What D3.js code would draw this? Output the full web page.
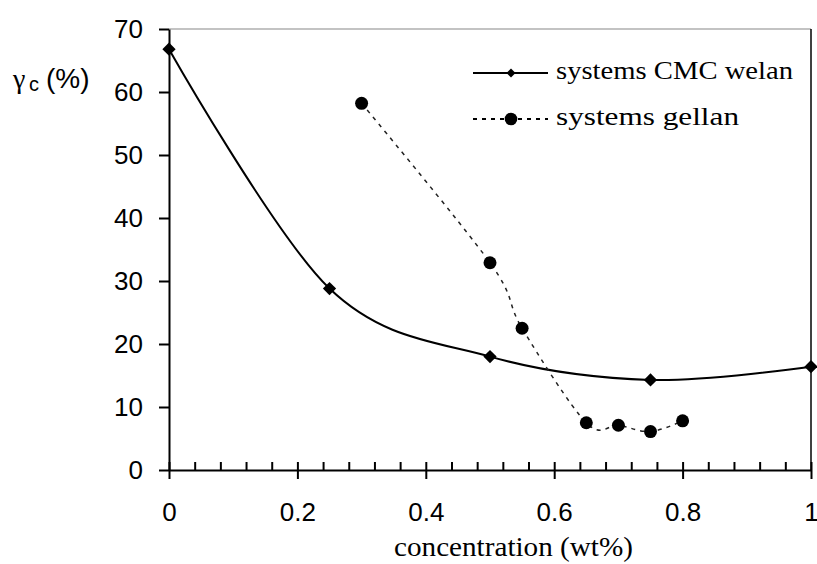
<!DOCTYPE html>
<html>
<head>
<meta charset="utf-8">
<script src="https://cdn.jsdelivr.net/npm/d3@7"></script>
<style>
  body { margin: 0; background: #fff; }
  svg { display: block; }
  .tick text { font-family: "Liberation Sans", Arial, sans-serif; font-size: 26px; fill: #000; }
  .serif { font-family: 'Liberation Serif', 'Times New Roman', serif; }
</style>
</head>
<body>
<svg id="chart" width="817" height="564"></svg>
<script>
// data
const cmcX = [0, 0.25, 0.5, 0.75, 1];
const cmcY = [66.8, 28.8, 18.0, 14.3, 16.4];
const gellanX = [0.3, 0.5, 0.55, 0.65, 0.7, 0.75, 0.8];
const gellanY = [58.2, 32.9, 22.5, 7.5, 7.1, 6.1, 7.8];
const xTicks = [0, 0.2, 0.4, 0.6, 0.8, 1];
const xTickLabels = ['0', '0.2', '0.4', '0.6', '0.8', '1'];
const xMinorTicks = d3.range(0.04, 1, 0.04).filter(v => Math.abs(v / 0.2 - Math.round(v / 0.2)) > 1e-6);
const yTicks = [0, 10, 20, 30, 40, 50, 60, 70];
const seriesNames = ['systems CMC welan', 'systems gellan'];

const SANS = '"Liberation Sans", Arial, sans-serif';

const svg = d3.select('#chart');
const plotL = 169, plotR = 811, plotT = 29, plotB = 470;

const x = d3.scaleLinear().domain([0, 1]).range([plotL, plotR]);
const y = d3.scaleLinear().domain([0, 70]).range([plotB, plotT]);

// frame: grey top, black right
svg.append('line').attr('x1', plotL).attr('x2', plotR).attr('y1', plotT).attr('y2', plotT)
  .attr('stroke', '#888').attr('stroke-width', 1.2);
svg.append('line').attr('x1', plotR).attr('x2', plotR).attr('y1', plotT).attr('y2', plotB)
  .attr('stroke', '#000').attr('stroke-width', 1.5);

// y axis
const gy = svg.append('g').attr('transform', `translate(${plotL},0)`)
  .call(d3.axisLeft(y).tickValues(yTicks).tickSize(10).tickSizeOuter(0).tickPadding(16).tickFormat(d3.format('d')));
gy.select('.domain').attr('stroke-width', 2);
gy.selectAll('.tick line').attr('stroke-width', 2);

// x axis minor ticks (inside)
const gxm = svg.append('g').attr('transform', `translate(0,${plotB})`)
  .call(d3.axisBottom(x).tickValues(xMinorTicks).tickSize(-8).tickSizeOuter(0).tickFormat(''));
gxm.select('.domain').remove();
gxm.selectAll('.tick line').attr('stroke-width', 2);

// x axis major ticks (cross the axis)
const gx = svg.append('g').attr('transform', `translate(0,${plotB})`)
  .call(d3.axisBottom(x).tickValues(xTicks).tickSize(9).tickSizeOuter(0).tickPadding(24)
    .tickFormat((d, i) => xTickLabels[i]));
gx.select('.domain').attr('stroke-width', 2);
gx.selectAll('.tick line').attr('y1', -8).attr('stroke-width', 2);

// curves (smoothed like the spreadsheet original)
const cmc = cmcX.map((v, i) => [v, cmcY[i]]);
const gellan = gellanX.map((v, i) => [v, gellanY[i]]);
const line = d3.line().x(d => x(d[0])).y(d => y(d[1])).curve(d3.curveCardinal.tension(0));

svg.append('path').attr('d', line(cmc)).attr('fill', 'none')
  .attr('stroke', '#000').attr('stroke-width', 2);
svg.append('path').attr('d', line(gellan)).attr('fill', 'none')
  .attr('stroke', '#222').attr('stroke-width', 1.5).attr('stroke-dasharray', '4,5');

const diamond = d3.symbol().type(d3.symbolSquare).size(88);
svg.append('g').selectAll('path').data(cmc).join('path')
  .attr('d', diamond)
  .attr('transform', d => `translate(${x(d[0])},${y(d[1])}) rotate(45)`)
  .attr('fill', '#000');

svg.append('g').selectAll('circle').data(gellan).join('circle')
  .attr('cx', d => x(d[0])).attr('cy', d => y(d[1])).attr('r', 6.5)
  .attr('fill', '#000');

// legend
const lg = svg.append('g');
lg.append('line').attr('x1', 473).attr('x2', 548).attr('y1', 73).attr('y2', 73)
  .attr('stroke', '#000').attr('stroke-width', 2);
lg.append('path').attr('d', d3.symbol().type(d3.symbolSquare).size(40))
  .attr('transform', 'translate(511,73) rotate(45)').attr('fill', '#000');
lg.append('text').attr('class', 'serif').attr('x', 556).attr('y', 79)
  .attr('font-size', 26).attr('textLength', 237).attr('lengthAdjust', 'spacingAndGlyphs')
  .text(seriesNames[0]);

lg.append('line').attr('x1', 473).attr('x2', 548).attr('y1', 119).attr('y2', 119)
  .attr('stroke', '#000').attr('stroke-width', 2).attr('stroke-dasharray', '4,5');
lg.append('circle').attr('cx', 511).attr('cy', 119).attr('r', 6.3).attr('fill', '#000');
lg.append('text').attr('class', 'serif').attr('x', 556).attr('y', 125)
  .attr('font-size', 26).attr('textLength', 183).attr('lengthAdjust', 'spacingAndGlyphs')
  .text(seriesNames[1]);

// axis titles
svg.append('text').attr('class', 'serif').attr('x', 394).attr('y', 556)
  .attr('font-size', 28).attr('textLength', 239).attr('lengthAdjust', 'spacingAndGlyphs')
  .text('concentration (wt%)');

const yl = svg.append('text').attr('x', 13).attr('y', 88)
  .attr('font-family', SANS).attr('fill', '#000');
yl.append('tspan').attr('class', 'serif').attr('font-size', 28).text('γ');
yl.append('tspan').attr('x', 29).attr('dy', 3).attr('font-size', 20).text('c');
yl.append('tspan').attr('x', 46).attr('dy', -3).attr('font-size', 28).text('(%)');
</script>
</body>
</html>
